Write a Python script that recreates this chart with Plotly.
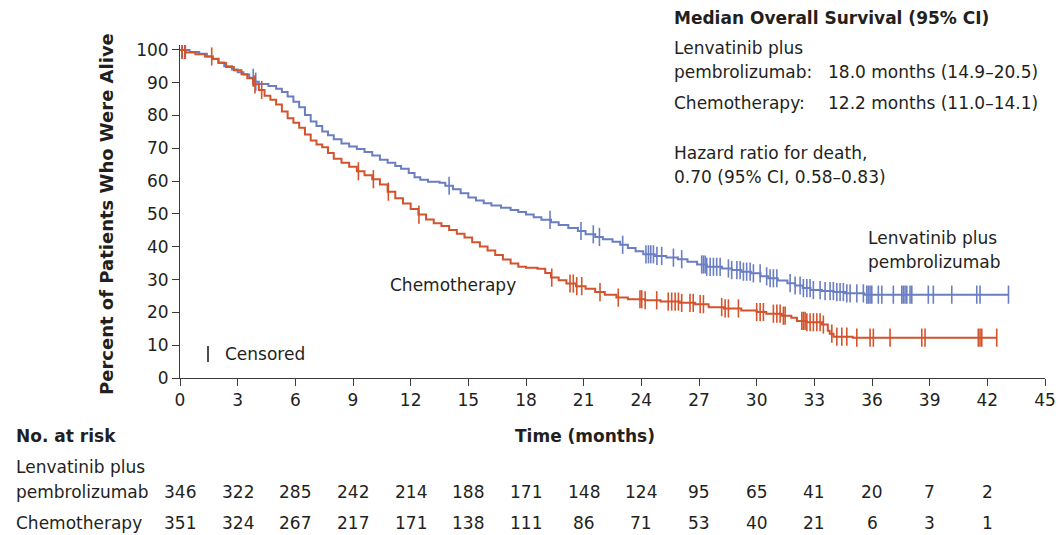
import numpy as np
import plotly.graph_objects as go

# ---------------- data ----------------
months_ticks = list(range(0, 46, 3))

lenva_t = [0, 0.5, 1.0, 1.4, 1.7, 2.0, 2.3, 2.7, 3.0, 3.3, 3.6, 3.9, 4.1, 4.6, 5.0, 5.3, 5.6, 5.9,
           6.2, 6.5, 6.8, 7.1, 7.4, 7.7, 8.0, 8.4, 8.8, 9.2, 9.6, 10.0, 10.4, 10.8, 11.2, 11.5,
           11.9, 12.2, 12.5, 12.9, 13.5, 13.8, 14.2, 14.6, 15.0, 15.4, 15.8, 16.2, 16.7, 17.2,
           17.6, 18.0, 18.4, 18.8, 19.3, 19.7, 20.2, 20.7, 21.1, 21.6, 22.0, 22.5, 22.9, 23.3,
           23.7, 24.1, 24.7, 25.3, 25.9, 26.4, 26.9, 27.4, 28.2, 28.7, 29.2, 29.7, 30.2, 30.6,
           31.1, 31.6, 32.0, 32.4, 32.8, 33.4, 34.0, 34.6, 35.6, 43.1]
lenva_s = [100, 99.4, 98.8, 98.0, 97.3, 96.2, 95.0, 94.0, 93.2, 92.5, 91.5, 90.3, 89.6, 89.0, 88.2,
           87.2, 85.8, 84.2, 82.5, 80.2, 78.2, 76.8, 75.1, 74.0, 72.8, 71.5, 70.6, 69.8, 68.9,
           67.8, 66.5, 65.6, 64.6, 63.8, 62.5, 61.2, 60.4, 59.8, 59.5, 58.6, 57.5, 56.3, 55.0,
           54.1, 53.3, 52.6, 51.9, 51.2, 50.6, 49.8, 49.0, 48.2, 47.5, 46.6, 45.7, 44.8, 43.8,
           43.0, 42.3, 41.5, 40.6, 39.6, 38.6, 37.7, 37.2, 36.7, 36.2, 35.4, 34.6, 33.9, 33.4,
           32.9, 32.4, 31.9, 31.0, 30.4, 29.7, 28.9, 28.2, 27.4, 26.8, 26.5, 26.2, 25.8, 25.4, 25.4]
lenva_cens = [0.12, 0.28, 3.81, 3.94, 14.0, 19.25, 20.86, 21.5, 21.82, 23.03, 24.24, 24.37, 24.49,
              24.63, 24.81, 25.06, 25.67, 26.1, 27.14, 27.23, 27.32, 27.4, 27.58, 27.75, 27.92,
              28.1, 28.53, 28.7, 28.97, 29.14, 29.31, 29.48, 29.66, 29.83, 30.18, 30.52, 30.7,
              30.87, 31.05, 31.74, 32.0, 32.26, 32.43, 32.61, 32.78, 32.95, 33.3, 33.56, 33.82,
              33.99, 34.17, 34.34, 34.51, 34.69, 34.86, 35.21, 35.55, 35.73, 35.81, 35.9, 35.99,
              36.33, 36.51, 37.11, 37.55, 37.63, 37.72, 37.81, 37.98, 38.07, 38.93, 39.19, 40.15,
              41.45, 41.62, 43.1]

chemo_t = [0, 0.3, 0.8, 1.3, 1.7, 2.0, 2.4, 2.8, 3.2, 3.5, 3.8, 4.1, 4.4, 4.7, 5.0, 5.3, 5.6, 5.9,
           6.2, 6.5, 6.8, 7.1, 7.4, 7.7, 8.0, 8.4, 8.8, 9.2, 9.6, 10.0, 10.4, 10.8, 11.2, 11.6,
           12.0, 12.4, 12.8, 13.2, 13.6, 14.0, 14.4, 14.8, 15.2, 15.6, 16.0, 16.4, 16.8, 17.2,
           17.6, 18.0, 18.6, 19.0, 19.3, 19.7, 20.1, 20.6, 21.1, 21.6, 22.1, 22.7, 23.3, 24.2,
           25.0, 26.0, 26.8, 27.5, 28.3, 29.2, 30.0, 30.5, 31.3, 31.8, 32.1, 32.6, 33.4, 33.7,
           33.8, 34.0, 35.0, 42.5]
chemo_s = [100, 99.2, 98.7, 98.0, 97.2, 96.0, 94.8, 93.8, 92.6, 91.4, 89.5, 87.8, 86.0, 84.8, 83.4,
           81.2, 79.2, 77.8, 76.3, 74.2, 72.4, 71.2, 70.3, 68.6, 66.8, 65.6, 64.4, 63.0, 61.8,
           60.6, 59.0, 56.8, 54.8, 53.2, 51.5, 49.8, 48.3, 47.2, 46.3, 45.1, 44.0, 42.8, 41.4,
           40.1, 38.9, 37.5, 36.1, 34.9, 33.9, 33.6, 33.3, 32.0, 30.6, 29.8, 28.8, 28.0, 27.2,
           26.2, 25.4, 24.5, 24.0, 23.7, 23.3, 22.9, 22.5, 21.6, 21.2, 20.6, 20.1, 19.6, 19.0,
           18.4, 17.4, 17.0, 16.3, 14.4, 13.5, 12.6, 12.3, 12.3]
chemo_cens = [0.1, 0.25, 1.65, 3.9, 4.25, 9.28, 10.06, 10.84, 12.43, 19.34, 20.29, 20.46, 20.64,
              20.9, 21.85, 22.8, 23.93, 24.02, 24.2, 24.8, 25.4, 25.58, 25.76, 25.93, 26.1, 26.53,
              26.7, 27.06, 27.23, 28.18, 28.36, 28.53, 29.05, 30.0, 30.18, 30.35, 30.87, 31.05,
              31.22, 31.39, 31.48, 32.35, 32.43, 32.52, 32.61, 32.78, 32.95, 33.13, 33.3, 33.47,
              33.91, 34.17, 34.43, 34.69, 35.21, 35.9, 36.07, 36.94, 38.59, 38.76, 41.53, 41.62,
              41.71, 42.49]

risk_times = [0, 3, 6, 9, 12, 15, 18, 21, 24, 27, 30, 33, 36, 39, 42]
risk_lenva = [346, 322, 285, 242, 214, 188, 171, 148, 124, 95, 65, 41, 20, 7, 2]
risk_chemo = [351, 324, 267, 217, 171, 138, 111, 86, 71, 53, 40, 21, 6, 3, 1]

# ---------------- style ----------------
W, H = 1058, 535
ML, MR, MT, MB = 180, 13, 45, 157
BLUE = "#6a7ec2"
RED = "#d3532c"
TXT = "#231f20"
FONT = "DejaVu Sans"
FS = 17


def px(x):
    return (x - ML) / (W - ML - MR)


def py(y):
    return (H - MB - y) / (H - MT - MB)


def step_val(ts, ss, c):
    i = np.searchsorted(np.array(ts), c, side="right") - 1
    return ss[max(i, 0)]


fig = go.Figure()
for ts, ss, cens, col, name in [(lenva_t, lenva_s, lenva_cens, BLUE, "Lenvatinib plus pembrolizumab"),
                                (chemo_t, chemo_s, chemo_cens, RED, "Chemotherapy")]:
    fig.add_trace(go.Scatter(x=ts, y=ss, mode="lines", line=dict(color=col, width=2, shape="hv"),
                             name=name, showlegend=False, hoverinfo="skip"))
    fig.add_trace(go.Scatter(x=cens, y=[step_val(ts, ss, c) for c in cens], mode="markers",
                             marker=dict(symbol="line-ns", size=13, line=dict(color=col, width=1.6)),
                             showlegend=False, hoverinfo="skip"))

axis_common = dict(showgrid=False, zeroline=False, showline=True, linecolor="#3a3a3a", linewidth=1,
                   ticks="outside", ticklen=7, tickcolor="#3a3a3a", tickwidth=1, automargin=False,
                   tickfont=dict(family=FONT, size=FS, color=TXT))
fig.update_xaxes(range=[0, 45], tickvals=months_ticks, **axis_common)
fig.update_yaxes(range=[0, 101.5], tickvals=list(range(0, 101, 10)), **axis_common)

ann = []


def add_text(text, x, y, bold=False, xanchor="left", size=FS, xref="paper", angle=0):
    t = f"<b>{text}</b>" if bold else text
    ann.append(dict(text=t, x=x if xref != "paper" else px(x), y=py(y), xref=xref, yref="paper",
                    xanchor=xanchor, yanchor="middle", showarrow=False, textangle=angle,
                    font=dict(family=FONT, size=size, color=TXT)))


add_text("Median Overall Survival (95% CI)", 672, 18, bold=True)
add_text("Lenvatinib plus", 672, 48)
add_text("pembrolizumab:", 672, 72)
add_text("18.0 months (14.9–20.5)", 826, 72)
add_text("Chemotherapy:", 672, 103)
add_text("12.2 months (11.0–14.1)", 826, 103)
add_text("Hazard ratio for death,", 672, 153)
add_text("0.70 (95% CI, 0.58–0.83)", 672, 177)
add_text("Lenvatinib plus", 866, 238)
add_text("pembrolizumab", 866, 262)
add_text("Chemotherapy", 388, 285)
add_text("Censored", 223, 354)
add_text("Percent of Patients Who Were Alive", 106, 214, bold=True, xanchor="center", angle=-90, size=18)
add_text("No. at risk", 14, 436, bold=True)
add_text("Time (months)", 585, 436, bold=True, xanchor="center")
add_text("Lenvatinib plus", 14, 467)
add_text("pembrolizumab", 14, 492)
add_text("Chemotherapy", 14, 523)
for t, a, b in zip(risk_times, risk_lenva, risk_chemo):
    add_text(str(a), t, 492, xanchor="center", xref="x")
    add_text(str(b), t, 523, xanchor="center", xref="x")

fig.update_layout(
    width=W, height=H, margin=dict(l=ML, r=MR, t=MT, b=MB, autoexpand=False),
    paper_bgcolor="white", plot_bgcolor="white", annotations=ann,
    shapes=[dict(type="line", xref="paper", yref="paper", x0=px(208), x1=px(208),
                 y0=py(346), y1=py(362), line=dict(color=TXT, width=1.6))],
)
fig.write_html("out.html", config={"displayModeBar": False},
               post_script="document.body.style.margin='0';document.body.style.overflow='hidden';")
